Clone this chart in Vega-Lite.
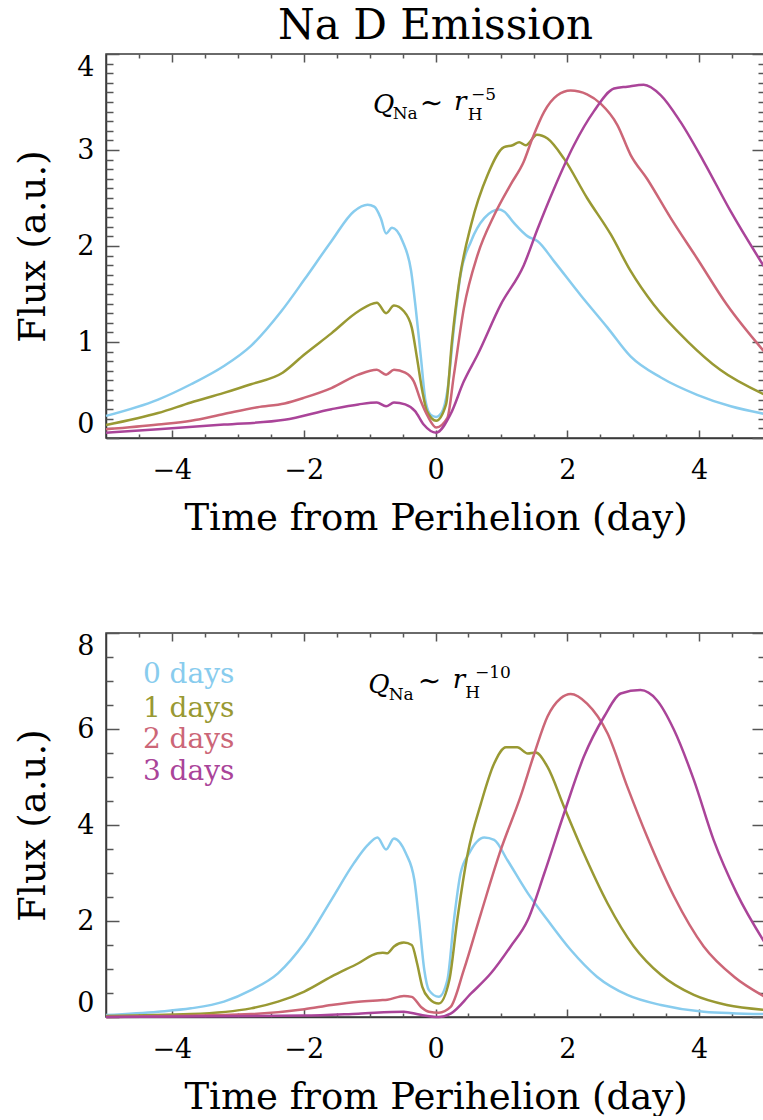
{
  "$schema": "https://vega.github.io/schema/vega-lite/v6.json",
  "padding": {"left": 14, "top": 4, "right": 0, "bottom": 0},
  "spacing": 94,
  "config": {
    "font": "DejaVu Serif",
    "view": {"stroke": "#3a3a3a", "strokeWidth": 1.5},
    "axis": {"labelFont": "DejaVu Serif", "labelFontSize": 27, "labelColor": "black", "titleFont": "DejaVu Serif", "titleFontSize": 37, "titleFontWeight": "normal", "titleColor": "black", "domainColor": "#3a3a3a", "domainWidth": 1.5, "tickColor": "#555555", "tickWidth": 1.5, "grid": false},
    "line": {"strokeWidth": 2.5, "interpolate": "monotone"}
  },
  "datasets": {
    "top": [
      {"t":-5,"f":0.23,"s":"0 days"},{"t":-4.21,"f":0.40,"s":"0 days"},{"t":-3.71,"f":0.56,"s":"0 days"},{"t":-3.21,"f":0.75,"s":"0 days"},{"t":-2.80,"f":0.96,"s":"0 days"},{"t":-2.34,"f":1.32,"s":"0 days"},{"t":-1.99,"f":1.65,"s":"0 days"},{"t":-1.58,"f":2.05,"s":"0 days"},{"t":-1.24,"f":2.36,"s":"0 days"},{"t":-1.03,"f":2.43,"s":"0 days"},{"t":-0.93,"f":2.41,"s":"0 days"},{"t":-0.83,"f":2.29,"s":"0 days"},{"t":-0.75,"f":2.13,"s":"0 days"},{"t":-0.66,"f":2.19,"s":"0 days"},{"t":-0.50,"f":2.05,"s":"0 days"},{"t":-0.37,"f":1.74,"s":"0 days"},{"t":-0.30,"f":1.35,"s":"0 days"},{"t":-0.22,"f":0.83,"s":"0 days"},{"t":-0.15,"f":0.38,"s":"0 days"},{"t":-0.07,"f":0.24,"s":"0 days"},{"t":0.01,"f":0.22,"s":"0 days"},{"t":0.09,"f":0.26,"s":"0 days"},{"t":0.18,"f":0.49,"s":"0 days"},{"t":0.28,"f":1.15,"s":"0 days"},{"t":0.38,"f":1.70,"s":"0 days"},{"t":0.54,"f":2.05,"s":"0 days"},{"t":0.74,"f":2.29,"s":"0 days"},{"t":0.97,"f":2.38,"s":"0 days"},{"t":1.04,"f":2.36,"s":"0 days"},{"t":1.19,"f":2.24,"s":"0 days"},{"t":1.40,"f":2.10,"s":"0 days"},{"t":1.55,"f":2.05,"s":"0 days"},{"t":1.80,"f":1.84,"s":"0 days"},{"t":2.20,"f":1.49,"s":"0 days"},{"t":2.61,"f":1.15,"s":"0 days"},{"t":2.96,"f":0.85,"s":"0 days"},{"t":3.42,"f":0.63,"s":"0 days"},{"t":3.97,"f":0.45,"s":"0 days"},{"t":4.48,"f":0.33,"s":"0 days"},{"t":5,"f":0.25,"s":"0 days"},
      {"t":-5,"f":0.135,"s":"1 days"},{"t":-4.21,"f":0.26,"s":"1 days"},{"t":-3.71,"f":0.37,"s":"1 days"},{"t":-3.21,"f":0.47,"s":"1 days"},{"t":-2.80,"f":0.56,"s":"1 days"},{"t":-2.32,"f":0.68,"s":"1 days"},{"t":-1.99,"f":0.87,"s":"1 days"},{"t":-1.58,"f":1.09,"s":"1 days"},{"t":-1.17,"f":1.32,"s":"1 days"},{"t":-0.89,"f":1.41,"s":"1 days"},{"t":-0.75,"f":1.30,"s":"1 days"},{"t":-0.63,"f":1.38,"s":"1 days"},{"t":-0.48,"f":1.32,"s":"1 days"},{"t":-0.36,"f":1.15,"s":"1 days"},{"t":-0.28,"f":0.83,"s":"1 days"},{"t":-0.20,"f":0.49,"s":"1 days"},{"t":-0.13,"f":0.28,"s":"1 days"},{"t":0.01,"f":0.18,"s":"1 days"},{"t":0.16,"f":0.35,"s":"1 days"},{"t":0.25,"f":1.01,"s":"1 days"},{"t":0.36,"f":1.63,"s":"1 days"},{"t":0.54,"f":2.22,"s":"1 days"},{"t":0.79,"f":2.74,"s":"1 days"},{"t":1.04,"f":3.03,"s":"1 days"},{"t":1.17,"f":3.05,"s":"1 days"},{"t":1.27,"f":3.08,"s":"1 days"},{"t":1.37,"f":3.05,"s":"1 days"},{"t":1.54,"f":3.16,"s":"1 days"},{"t":1.70,"f":3.12,"s":"1 days"},{"t":1.95,"f":2.91,"s":"1 days"},{"t":2.30,"f":2.50,"s":"1 days"},{"t":2.66,"f":2.12,"s":"1 days"},{"t":2.96,"f":1.74,"s":"1 days"},{"t":3.31,"f":1.39,"s":"1 days"},{"t":3.82,"f":1.01,"s":"1 days"},{"t":4.32,"f":0.71,"s":"1 days"},{"t":5,"f":0.45,"s":"1 days"},
      {"t":-5,"f":0.09,"s":"2 days"},{"t":-4.21,"f":0.14,"s":"2 days"},{"t":-3.71,"f":0.18,"s":"2 days"},{"t":-3.21,"f":0.25,"s":"2 days"},{"t":-2.70,"f":0.32,"s":"2 days"},{"t":-2.29,"f":0.36,"s":"2 days"},{"t":-1.99,"f":0.42,"s":"2 days"},{"t":-1.58,"f":0.52,"s":"2 days"},{"t":-1.17,"f":0.66,"s":"2 days"},{"t":-0.89,"f":0.71,"s":"2 days"},{"t":-0.75,"f":0.66,"s":"2 days"},{"t":-0.63,"f":0.71,"s":"2 days"},{"t":-0.46,"f":0.68,"s":"2 days"},{"t":-0.33,"f":0.59,"s":"2 days"},{"t":-0.22,"f":0.38,"s":"2 days"},{"t":-0.12,"f":0.23,"s":"2 days"},{"t":0.01,"f":0.11,"s":"2 days"},{"t":0.18,"f":0.21,"s":"2 days"},{"t":0.28,"f":0.66,"s":"2 days"},{"t":0.43,"f":1.35,"s":"2 days"},{"t":0.64,"f":1.91,"s":"2 days"},{"t":0.89,"f":2.32,"s":"2 days"},{"t":1.14,"f":2.64,"s":"2 days"},{"t":1.34,"f":2.88,"s":"2 days"},{"t":1.47,"f":3.12,"s":"2 days"},{"t":1.65,"f":3.40,"s":"2 days"},{"t":1.85,"f":3.57,"s":"2 days"},{"t":2.05,"f":3.62,"s":"2 days"},{"t":2.30,"f":3.58,"s":"2 days"},{"t":2.51,"f":3.48,"s":"2 days"},{"t":2.76,"f":3.26,"s":"2 days"},{"t":2.96,"f":2.95,"s":"2 days"},{"t":3.21,"f":2.70,"s":"2 days"},{"t":3.57,"f":2.29,"s":"2 days"},{"t":3.97,"f":1.87,"s":"2 days"},{"t":4.42,"f":1.39,"s":"2 days"},{"t":5,"f":0.89,"s":"2 days"},
      {"t":-5,"f":0.055,"s":"3 days"},{"t":-4.21,"f":0.09,"s":"3 days"},{"t":-3.21,"f":0.14,"s":"3 days"},{"t":-2.29,"f":0.19,"s":"3 days"},{"t":-1.58,"f":0.30,"s":"3 days"},{"t":-1.17,"f":0.35,"s":"3 days"},{"t":-0.89,"f":0.37,"s":"3 days"},{"t":-0.75,"f":0.33,"s":"3 days"},{"t":-0.63,"f":0.37,"s":"3 days"},{"t":-0.46,"f":0.35,"s":"3 days"},{"t":-0.31,"f":0.28,"s":"3 days"},{"t":-0.18,"f":0.14,"s":"3 days"},{"t":0.01,"f":0.055,"s":"3 days"},{"t":0.23,"f":0.25,"s":"3 days"},{"t":0.43,"f":0.59,"s":"3 days"},{"t":0.64,"f":0.87,"s":"3 days"},{"t":0.99,"f":1.39,"s":"3 days"},{"t":1.34,"f":1.80,"s":"3 days"},{"t":1.55,"f":2.18,"s":"3 days"},{"t":1.80,"f":2.60,"s":"3 days"},{"t":2.10,"f":3.05,"s":"3 days"},{"t":2.40,"f":3.40,"s":"3 days"},{"t":2.71,"f":3.64,"s":"3 days"},{"t":2.91,"f":3.66,"s":"3 days"},{"t":3.16,"f":3.68,"s":"3 days"},{"t":3.42,"f":3.57,"s":"3 days"},{"t":3.72,"f":3.29,"s":"3 days"},{"t":4.07,"f":2.88,"s":"3 days"},{"t":4.48,"f":2.36,"s":"3 days"},{"t":5,"f":1.77,"s":"3 days"}
    ],
    "bottom": [
      {"t":-5,"f":0.04,"s":"0 days"},{"t":-4.21,"f":0.11,"s":"0 days"},{"t":-3.71,"f":0.18,"s":"0 days"},{"t":-3.21,"f":0.32,"s":"0 days"},{"t":-2.80,"f":0.56,"s":"0 days"},{"t":-2.39,"f":0.91,"s":"0 days"},{"t":-1.99,"f":1.54,"s":"0 days"},{"t":-1.58,"f":2.44,"s":"0 days"},{"t":-1.24,"f":3.20,"s":"0 days"},{"t":-1.03,"f":3.58,"s":"0 days"},{"t":-0.88,"f":3.74,"s":"0 days"},{"t":-0.75,"f":3.49,"s":"0 days"},{"t":-0.63,"f":3.72,"s":"0 days"},{"t":-0.45,"f":3.41,"s":"0 days"},{"t":-0.32,"f":2.85,"s":"0 days"},{"t":-0.25,"f":2.02,"s":"0 days"},{"t":-0.17,"f":0.98,"s":"0 days"},{"t":-0.10,"f":0.56,"s":"0 days"},{"t":0.05,"f":0.42,"s":"0 days"},{"t":0.18,"f":0.77,"s":"0 days"},{"t":0.28,"f":2.02,"s":"0 days"},{"t":0.38,"f":2.99,"s":"0 days"},{"t":0.51,"f":3.41,"s":"0 days"},{"t":0.74,"f":3.74,"s":"0 days"},{"t":0.89,"f":3.69,"s":"0 days"},{"t":1.09,"f":3.27,"s":"0 days"},{"t":1.40,"f":2.58,"s":"0 days"},{"t":1.70,"f":2.02,"s":"0 days"},{"t":2.05,"f":1.40,"s":"0 days"},{"t":2.45,"f":0.84,"s":"0 days"},{"t":2.91,"f":0.46,"s":"0 days"},{"t":3.42,"f":0.25,"s":"0 days"},{"t":4.07,"f":0.11,"s":"0 days"},{"t":5,"f":0.06,"s":"0 days"},
      {"t":-5,"f":0.02,"s":"1 days"},{"t":-3.71,"f":0.06,"s":"1 days"},{"t":-2.80,"f":0.18,"s":"1 days"},{"t":-2.39,"f":0.32,"s":"1 days"},{"t":-1.99,"f":0.53,"s":"1 days"},{"t":-1.58,"f":0.84,"s":"1 days"},{"t":-1.17,"f":1.12,"s":"1 days"},{"t":-0.88,"f":1.33,"s":"1 days"},{"t":-0.80,"f":1.34,"s":"1 days"},{"t":-0.73,"f":1.33,"s":"1 days"},{"t":-0.63,"f":1.47,"s":"1 days"},{"t":-0.48,"f":1.55,"s":"1 days"},{"t":-0.36,"f":1.50,"s":"1 days"},{"t":-0.28,"f":1.12,"s":"1 days"},{"t":-0.20,"f":0.63,"s":"1 days"},{"t":-0.10,"f":0.39,"s":"1 days"},{"t":0.05,"f":0.28,"s":"1 days"},{"t":0.21,"f":0.77,"s":"1 days"},{"t":0.33,"f":2.02,"s":"1 days"},{"t":0.49,"f":3.41,"s":"1 days"},{"t":0.69,"f":4.45,"s":"1 days"},{"t":0.89,"f":5.28,"s":"1 days"},{"t":1.07,"f":5.62,"s":"1 days"},{"t":1.24,"f":5.62,"s":"1 days"},{"t":1.40,"f":5.49,"s":"1 days"},{"t":1.52,"f":5.51,"s":"1 days"},{"t":1.70,"f":5.21,"s":"1 days"},{"t":1.95,"f":4.38,"s":"1 days"},{"t":2.25,"f":3.41,"s":"1 days"},{"t":2.61,"f":2.37,"s":"1 days"},{"t":3.01,"f":1.47,"s":"1 days"},{"t":3.42,"f":0.88,"s":"1 days"},{"t":3.92,"f":0.46,"s":"1 days"},{"t":4.42,"f":0.25,"s":"1 days"},{"t":5,"f":0.15,"s":"1 days"},
      {"t":-5,"f":0.0,"s":"2 days"},{"t":-2.80,"f":0.06,"s":"2 days"},{"t":-1.99,"f":0.16,"s":"2 days"},{"t":-1.58,"f":0.25,"s":"2 days"},{"t":-1.17,"f":0.32,"s":"2 days"},{"t":-0.84,"f":0.35,"s":"2 days"},{"t":-0.73,"f":0.36,"s":"2 days"},{"t":-0.48,"f":0.44,"s":"2 days"},{"t":-0.36,"f":0.42,"s":"2 days"},{"t":-0.22,"f":0.21,"s":"2 days"},{"t":-0.10,"f":0.11,"s":"2 days"},{"t":0.05,"f":0.09,"s":"2 days"},{"t":0.23,"f":0.21,"s":"2 days"},{"t":0.43,"f":0.98,"s":"2 days"},{"t":0.69,"f":2.16,"s":"2 days"},{"t":0.99,"f":3.48,"s":"2 days"},{"t":1.29,"f":4.59,"s":"2 days"},{"t":1.50,"f":5.49,"s":"2 days"},{"t":1.70,"f":6.26,"s":"2 days"},{"t":1.90,"f":6.64,"s":"2 days"},{"t":2.05,"f":6.73,"s":"2 days"},{"t":2.30,"f":6.53,"s":"2 days"},{"t":2.61,"f":5.91,"s":"2 days"},{"t":2.91,"f":4.80,"s":"2 days"},{"t":3.21,"f":3.76,"s":"2 days"},{"t":3.62,"f":2.51,"s":"2 days"},{"t":4.07,"f":1.47,"s":"2 days"},{"t":4.53,"f":0.84,"s":"2 days"},{"t":5,"f":0.42,"s":"2 days"},
      {"t":-5,"f":0.0,"s":"3 days"},{"t":-2.0,"f":0.03,"s":"3 days"},{"t":-1.17,"f":0.07,"s":"3 days"},{"t":-0.48,"f":0.11,"s":"3 days"},{"t":-0.25,"f":0.05,"s":"3 days"},{"t":0.05,"f":0.0,"s":"3 days"},{"t":0.23,"f":0.07,"s":"3 days"},{"t":0.54,"f":0.49,"s":"3 days"},{"t":0.84,"f":0.91,"s":"3 days"},{"t":1.14,"f":1.47,"s":"3 days"},{"t":1.40,"f":2.02,"s":"3 days"},{"t":1.65,"f":2.99,"s":"3 days"},{"t":1.95,"f":4.24,"s":"3 days"},{"t":2.25,"f":5.42,"s":"3 days"},{"t":2.56,"f":6.26,"s":"3 days"},{"t":2.81,"f":6.74,"s":"3 days"},{"t":3.11,"f":6.81,"s":"3 days"},{"t":3.36,"f":6.60,"s":"3 days"},{"t":3.62,"f":5.98,"s":"3 days"},{"t":3.92,"f":4.94,"s":"3 days"},{"t":4.22,"f":3.69,"s":"3 days"},{"t":4.57,"f":2.58,"s":"3 days"},{"t":5,"f":1.54,"s":"3 days"}
    ]
  },
  "vconcat": [
    {
      "width": 659, "height": 384,
      "title": {"text": "Na D Emission", "font": "DejaVu Serif", "fontSize": 42, "fontWeight": "normal", "color": "black", "anchor": "middle", "offset": 5},
      "resolve": {"axis": {"x": "independent", "y": "independent"}},
      "layer": [
        {
          "data": {"name": "top"},
          "mark": {"type": "line"},
          "encoding": {
            "x": {"field": "t", "type": "quantitative", "scale": {"domain": [-5, 5], "nice": false, "zero": false},
                  "axis": {"orient": "bottom", "values": [-4, -2, 0, 2, 4], "tickSize": -8, "labelPadding": 27, "title": "Time from Perihelion (day)", "titlePadding": 17}},
            "y": {"field": "f", "type": "quantitative", "scale": {"domain": [0, 4], "nice": false, "zero": false},
                  "axis": {"orient": "left", "values": [0, 1, 2, 3, 4], "tickSize": -13, "labelPadding": 25, "labelFlush": true, "title": "Flux (a.u.)", "titlePadding": 24}},
            "color": {"field": "s", "type": "nominal", "scale": {"domain": ["0 days", "1 days", "2 days", "3 days"], "range": ["#88CCEE", "#999933", "#CC6677", "#AA4499"]}, "legend": null}
          }
        },
        {
          "data": {"name": "top"},
          "mark": {"type": "point", "opacity": 0},
          "encoding": {
            "x": {"field": "t", "type": "quantitative", "axis": {"orient": "top", "values": [-4, -2, 0, 2, 4], "tickSize": -8, "labels": false, "domain": false, "title": null}},
            "y": {"field": "f", "type": "quantitative", "axis": {"orient": "right", "values": [0, 1, 2, 3, 4], "tickSize": -13, "labels": false, "domain": false, "title": null}}
          }
        },
        {
          "data": {"name": "top"},
          "mark": {"type": "point", "opacity": 0},
          "encoding": {
            "x": {"field": "t", "type": "quantitative", "axis": {"orient": "bottom", "values": [-4.5, -3.5, -3, -2.5, -1.5, -1, -0.5, 0.5, 1, 1.5, 2.5, 3, 3.5, 4.5], "tickSize": -4, "labels": false, "domain": false, "title": null}},
            "y": {"field": "f", "type": "quantitative", "axis": {"orient": "left", "values": [0.1,0.2,0.3,0.4,0.5,0.6,0.7,0.8,0.9,1.1,1.2,1.3,1.4,1.5,1.6,1.7,1.8,1.9,2.1,2.2,2.3,2.4,2.5,2.6,2.7,2.8,2.9,3.1,3.2,3.3,3.4,3.5,3.6,3.7,3.8,3.9], "tickSize": -7, "labels": false, "domain": false, "title": null}}
          }
        },
        {
          "data": {"name": "top"},
          "mark": {"type": "point", "opacity": 0},
          "encoding": {
            "x": {"field": "t", "type": "quantitative", "axis": {"orient": "top", "values": [-4.5, -3.5, -3, -2.5, -1.5, -1, -0.5, 0.5, 1, 1.5, 2.5, 3, 3.5, 4.5], "tickSize": -4, "labels": false, "domain": false, "title": null}},
            "y": {"field": "f", "type": "quantitative", "axis": {"orient": "right", "values": [0.1,0.2,0.3,0.4,0.5,0.6,0.7,0.8,0.9,1.1,1.2,1.3,1.4,1.5,1.6,1.7,1.8,1.9,2.1,2.2,2.3,2.4,2.5,2.6,2.7,2.8,2.9,3.1,3.2,3.3,3.4,3.5,3.6,3.7,3.8,3.9], "tickSize": -7, "labels": false, "domain": false, "title": null}}
          }
        },
        {"data": {"values": [{}]}, "mark": {"type": "text", "text": "Q", "fontStyle": "italic", "fontSize": 26, "align": "left", "baseline": "alphabetic", "color": "black"},
         "encoding": {"x": {"datum": -0.95, "axis": null}, "y": {"datum": 3.39, "axis": null}}},
        {"data": {"values": [{}]}, "mark": {"type": "text", "text": "Na", "fontSize": 17, "align": "left", "baseline": "alphabetic", "color": "black"},
         "encoding": {"x": {"datum": -0.65, "axis": null}, "y": {"datum": 3.32, "axis": null}}},
        {"data": {"values": [{}]}, "mark": {"type": "text", "text": "∼", "fontSize": 28, "align": "left", "baseline": "middle", "color": "black"},
         "encoding": {"x": {"datum": -0.24, "axis": null}, "y": {"datum": 3.48, "axis": null}}},
        {"data": {"values": [{}]}, "mark": {"type": "text", "text": "r", "fontStyle": "italic", "fontSize": 26, "align": "left", "baseline": "alphabetic", "color": "black"},
         "encoding": {"x": {"datum": 0.28, "axis": null}, "y": {"datum": 3.42, "axis": null}}},
        {"data": {"values": [{}]}, "mark": {"type": "text", "text": "H", "fontSize": 17, "align": "left", "baseline": "alphabetic", "color": "black"},
         "encoding": {"x": {"datum": 0.49, "axis": null}, "y": {"datum": 3.31, "axis": null}}},
        {"data": {"values": [{}]}, "mark": {"type": "text", "text": "−5", "fontSize": 17, "align": "left", "baseline": "alphabetic", "color": "black"},
         "encoding": {"x": {"datum": 0.54, "axis": null}, "y": {"datum": 3.52, "axis": null}}}
      ]
    },
    {
      "width": 659, "height": 384,
      "resolve": {"axis": {"x": "independent", "y": "independent"}},
      "layer": [
        {
          "data": {"name": "bottom"},
          "mark": {"type": "line"},
          "encoding": {
            "x": {"field": "t", "type": "quantitative", "scale": {"domain": [-5, 5], "nice": false, "zero": false},
                  "axis": {"orient": "bottom", "values": [-4, -2, 0, 2, 4], "tickSize": -8, "labelPadding": 27, "title": "Time from Perihelion (day)", "titlePadding": 17}},
            "y": {"field": "f", "type": "quantitative", "scale": {"domain": [0, 8], "nice": false, "zero": false},
                  "axis": {"orient": "left", "values": [0, 2, 4, 6, 8], "tickSize": -13, "labelPadding": 25, "labelFlush": true, "title": "Flux (a.u.)", "titlePadding": 24}},
            "color": {"field": "s", "type": "nominal", "scale": {"domain": ["0 days", "1 days", "2 days", "3 days"], "range": ["#88CCEE", "#999933", "#CC6677", "#AA4499"]}, "legend": null}
          }
        },
        {
          "data": {"name": "bottom"},
          "mark": {"type": "point", "opacity": 0},
          "encoding": {
            "x": {"field": "t", "type": "quantitative", "axis": {"orient": "top", "values": [-4, -2, 0, 2, 4], "tickSize": -8, "labels": false, "domain": false, "title": null}},
            "y": {"field": "f", "type": "quantitative", "axis": {"orient": "right", "values": [0, 2, 4, 6, 8], "tickSize": -13, "labels": false, "domain": false, "title": null}}
          }
        },
        {
          "data": {"name": "bottom"},
          "mark": {"type": "point", "opacity": 0},
          "encoding": {
            "x": {"field": "t", "type": "quantitative", "axis": {"orient": "bottom", "values": [-4.5, -3.5, -3, -2.5, -1.5, -1, -0.5, 0.5, 1, 1.5, 2.5, 3, 3.5, 4.5], "tickSize": -4, "labels": false, "domain": false, "title": null}},
            "y": {"field": "f", "type": "quantitative", "axis": {"orient": "left", "values": [0.5, 1, 1.5, 2.5, 3, 3.5, 4.5, 5, 5.5, 6.5, 7, 7.5], "tickSize": -7, "labels": false, "domain": false, "title": null}}
          }
        },
        {
          "data": {"name": "bottom"},
          "mark": {"type": "point", "opacity": 0},
          "encoding": {
            "x": {"field": "t", "type": "quantitative", "axis": {"orient": "top", "values": [-4.5, -3.5, -3, -2.5, -1.5, -1, -0.5, 0.5, 1, 1.5, 2.5, 3, 3.5, 4.5], "tickSize": -4, "labels": false, "domain": false, "title": null}},
            "y": {"field": "f", "type": "quantitative", "axis": {"orient": "right", "values": [0.5, 1, 1.5, 2.5, 3, 3.5, 4.5, 5, 5.5, 6.5, 7, 7.5], "tickSize": -7, "labels": false, "domain": false, "title": null}}
          }
        },
        {"data": {"values": [{}]}, "mark": {"type": "text", "text": "Q", "fontStyle": "italic", "fontSize": 26, "align": "left", "baseline": "alphabetic", "color": "black"},
         "encoding": {"x": {"datum": -1.02, "axis": null}, "y": {"datum": 6.75, "axis": null}}},
        {"data": {"values": [{}]}, "mark": {"type": "text", "text": "Na", "fontSize": 17, "align": "left", "baseline": "alphabetic", "color": "black"},
         "encoding": {"x": {"datum": -0.71, "axis": null}, "y": {"datum": 6.6, "axis": null}}},
        {"data": {"values": [{}]}, "mark": {"type": "text", "text": "∼", "fontSize": 28, "align": "left", "baseline": "middle", "color": "black"},
         "encoding": {"x": {"datum": -0.27, "axis": null}, "y": {"datum": 6.98, "axis": null}}},
        {"data": {"values": [{}]}, "mark": {"type": "text", "text": "r", "fontStyle": "italic", "fontSize": 26, "align": "left", "baseline": "alphabetic", "color": "black"},
         "encoding": {"x": {"datum": 0.26, "axis": null}, "y": {"datum": 6.85, "axis": null}}},
        {"data": {"values": [{}]}, "mark": {"type": "text", "text": "H", "fontSize": 17, "align": "left", "baseline": "alphabetic", "color": "black"},
         "encoding": {"x": {"datum": 0.45, "axis": null}, "y": {"datum": 6.65, "axis": null}}},
        {"data": {"values": [{}]}, "mark": {"type": "text", "text": "−10", "fontSize": 17, "align": "left", "baseline": "alphabetic", "color": "black"},
         "encoding": {"x": {"datum": 0.6, "axis": null}, "y": {"datum": 7.06, "axis": null}}},
        {"data": {"values": [{}]}, "mark": {"type": "text", "text": "0 days", "fontSize": 28, "align": "left", "baseline": "alphabetic", "color": "#88CCEE"},
         "encoding": {"x": {"datum": -4.44, "axis": null}, "y": {"datum": 6.96, "axis": null}}},
        {"data": {"values": [{}]}, "mark": {"type": "text", "text": "1 days", "fontSize": 28, "align": "left", "baseline": "alphabetic", "color": "#999933"},
         "encoding": {"x": {"datum": -4.44, "axis": null}, "y": {"datum": 6.25, "axis": null}}},
        {"data": {"values": [{}]}, "mark": {"type": "text", "text": "2 days", "fontSize": 28, "align": "left", "baseline": "alphabetic", "color": "#CC6677"},
         "encoding": {"x": {"datum": -4.44, "axis": null}, "y": {"datum": 5.6, "axis": null}}},
        {"data": {"values": [{}]}, "mark": {"type": "text", "text": "3 days", "fontSize": 28, "align": "left", "baseline": "alphabetic", "color": "#AA4499"},
         "encoding": {"x": {"datum": -4.44, "axis": null}, "y": {"datum": 4.94, "axis": null}}}
      ]
    }
  ]
}
